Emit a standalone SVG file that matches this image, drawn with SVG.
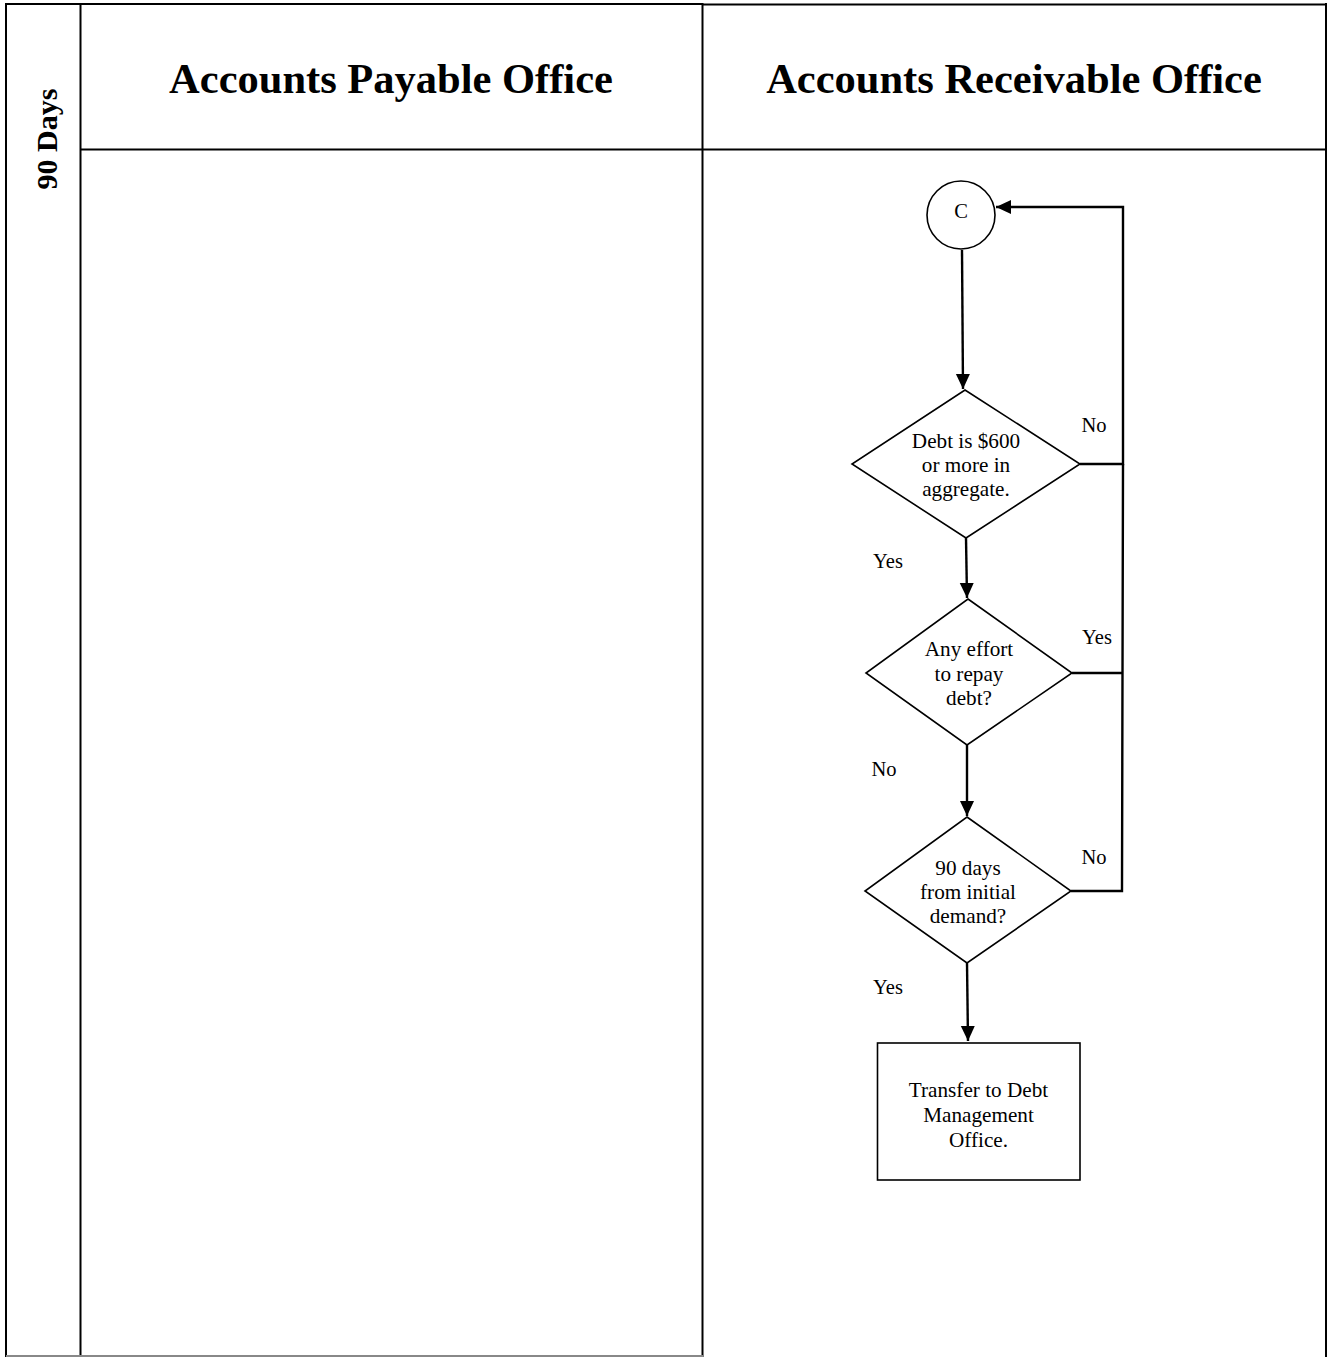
<svg xmlns="http://www.w3.org/2000/svg" width="1328" height="1357" viewBox="0 0 1328 1357">
<style>
  .hdr { font-family: "Liberation Serif", "Times New Roman", serif; font-weight: bold; font-size: 42.5px; fill: #000; text-anchor: middle; }
  .lane { font-family: "Liberation Serif", "Times New Roman", serif; font-weight: bold; font-size: 30px; fill: #000; text-anchor: middle; }
  .txt { font-family: "Liberation Serif", "Times New Roman", serif; font-size: 21.2px; fill: #000; text-anchor: middle; }
  .lbl { font-family: "Liberation Serif", "Times New Roman", serif; font-size: 20.5px; fill: #000; text-anchor: middle; }
  .shape { fill: #fff; stroke: #000; stroke-width: 1.6; }
  .conn { fill: none; stroke: #000; stroke-width: 2.4; }
  .grid { stroke: #000; stroke-width: 2; fill: none; }
</style>
<defs>
  <marker id="arrow" markerUnits="userSpaceOnUse" markerWidth="16" markerHeight="15" refX="15" refY="7" orient="auto">
    <path d="M0,0 L15,7 L0,14 z" fill="#000"/>
  </marker>
</defs>
<rect x="0" y="0" width="1328" height="1357" fill="#fff"/>

<g id="table">
  <line class="grid" x1="5" y1="4" x2="703" y2="4"/>
  <line class="grid" x1="703" y1="4.5" x2="1327" y2="4.5"/>
  <line class="grid" x1="6" y1="3" x2="6" y2="1357"/>
  <line class="grid" x1="80.5" y1="3" x2="80.5" y2="1357" stroke-width="3"/>
  <line class="grid" x1="702.5" y1="3" x2="702.5" y2="1357" stroke-width="2.5"/>
  <line class="grid" x1="1326" y1="3" x2="1326" y2="1357"/>
  <line class="grid" x1="80" y1="149.5" x2="1327" y2="149.5"/>
  <line x1="6" y1="1356" x2="703" y2="1356" stroke="#888" stroke-width="2"/>
</g>

<g id="lane-label">
  <text class="lane" transform="translate(57,139) rotate(-90)">90 Days</text>
</g>
<g id="header-ap">
  <text class="hdr" x="391" y="93">Accounts Payable Office</text>
</g>
<g id="header-ar">
  <text class="hdr" x="1014" y="93">Accounts Receivable Office</text>
</g>

<g id="connectors">
  <path class="conn" d="M962,250 L963,389" marker-end="url(#arrow)"/>
  <path class="conn" d="M966,538 L967,598" marker-end="url(#arrow)"/>
  <path class="conn" d="M967,745 L967,816" marker-end="url(#arrow)"/>
  <path class="conn" d="M967,963 L968,1041" marker-end="url(#arrow)"/>
  <path class="conn" d="M1080,464 H1123 V207 H996" marker-end="url(#arrow)"/>
  <path class="conn" d="M1072,673 H1123"/>
  <path class="conn" d="M1071,891 H1122 L1123,464"/>
  <text class="lbl" x="1094" y="432">No</text>
  <text class="lbl" x="888" y="568">Yes</text>
  <text class="lbl" x="1097" y="644">Yes</text>
  <text class="lbl" x="884" y="776">No</text>
  <text class="lbl" x="1094" y="864">No</text>
  <text class="lbl" x="888" y="994">Yes</text>
</g>

<g id="node-c">
  <circle class="shape" cx="961" cy="215" r="34"/>
  <text class="lbl" x="961" y="218" font-size="18">C</text>
</g>

<g id="node-debt600">
  <polygon class="shape" points="965,390 1080,464 966,538 852,464"/>
  <text class="txt" x="966" y="448">Debt is $600</text>
  <text class="txt" x="966" y="472">or more in</text>
  <text class="txt" x="966" y="496">aggregate.</text>
</g>

<g id="node-effort">
  <polygon class="shape" points="968,599 1072,673 967,745 866,673"/>
  <text class="txt" x="969" y="656">Any effort</text>
  <text class="txt" x="969" y="681">to repay</text>
  <text class="txt" x="969" y="705">debt?</text>
</g>

<g id="node-90days">
  <polygon class="shape" points="967,817 1071,891 967,963 865,891"/>
  <text class="txt" x="968" y="875">90 days</text>
  <text class="txt" x="968" y="899">from initial</text>
  <text class="txt" x="968" y="923">demand?</text>
</g>

<g id="node-transfer">
  <rect class="shape" x="877.5" y="1043" width="202.5" height="137" stroke-width="2"/>
  <text class="txt" x="978.5" y="1097">Transfer to Debt</text>
  <text class="txt" x="978.5" y="1122">Management</text>
  <text class="txt" x="978.5" y="1147">Office.</text>
</g>
</svg>
